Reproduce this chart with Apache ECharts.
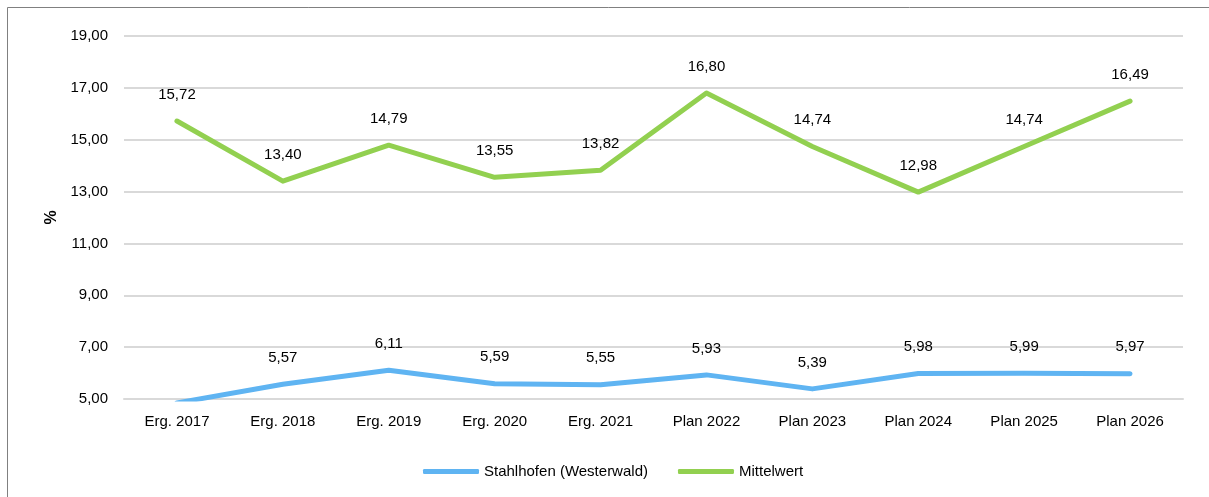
<!DOCTYPE html>
<html>
<head>
<meta charset="utf-8">
<script src="https://cdn.jsdelivr.net/npm/echarts@6/dist/echarts.min.js"></script>
<style>
  html, body { margin: 0; padding: 0; background: #fff; }
  #chart { width: 1209px; height: 497px; }
</style>
</head>
<body>
<div id="chart"></div>
<script>
const categories = ['Erg. 2017', 'Erg. 2018', 'Erg. 2019', 'Erg. 2020', 'Erg. 2021',
  'Plan 2022', 'Plan 2023', 'Plan 2024', 'Plan 2025', 'Plan 2026']
const stahlhofen = [4.85, 5.57, 6.11, 5.59, 5.55, 5.93, 5.39, 5.98, 5.99, 5.97]
const mittelwert = [15.72, 13.40, 14.79, 13.55, 13.82, 16.80, 14.74, 12.98, 14.74, 16.49]

const yMin = 5
const yMax = 19
const yStep = 2

const fmt = (v) => v.toFixed(2).replace('.', ',')

// values under the axis minimum are clipped and get no label
function toItems(values) {
  return values.map((v) => ({ value: v, label: { show: v >= yMin } }))
}

const labelStyle = {
  show: true,
  position: 'top',
  distance: 18,
  color: '#000',
  fontSize: 15,
  fontFamily: 'Liberation Sans, Arial, sans-serif',
  formatter: (p) => fmt(p.value),
}

const chart = echarts.init(document.getElementById('chart'))
chart.setOption({
  animation: false,
  backgroundColor: '#fff',
  textStyle: { fontFamily: 'Liberation Sans, Arial, sans-serif', color: '#000' },
  graphic: [{
    type: 'rect',
    shape: { x: 7.5, y: 7.5, width: 1215, height: 500 },
    style: { fill: 'none', stroke: '#808080', lineWidth: 1 },
    silent: true,
  }],
  grid: { left: 124, right: 26, top: 36, bottom: 98 },
  legend: {
    left: 418,
    top: 459,
    itemWidth: 56,
    itemHeight: 5,
    itemGap: 30,
    icon: 'roundRect',
    textStyle: { fontSize: 15, color: '#000' },
    data: ['Stahlhofen (Westerwald)', 'Mittelwert'],
  },
  xAxis: {
    type: 'category',
    data: categories,
    boundaryGap: true,
    axisLine: { lineStyle: { color: '#d9d9d9', width: 2 } },
    axisTick: { show: false },
    axisLabel: { color: '#000', fontSize: 15, margin: 15 },
  },
  yAxis: {
    type: 'value',
    min: yMin,
    max: yMax,
    interval: yStep,
    name: '%',
    nameLocation: 'middle',
    nameGap: 63,
    nameRotate: 90,
    nameTextStyle: { fontSize: 16, fontWeight: 'bold', color: '#000' },
    axisLine: { show: false },
    axisTick: { show: false },
    axisLabel: { color: '#000', fontSize: 15, margin: 16, formatter: fmt },
    splitLine: { lineStyle: { color: '#d9d9d9', width: 2 } },
  },
  series: [
    {
      name: 'Stahlhofen (Westerwald)',
      type: 'line',
      data: toItems(stahlhofen),
      symbol: 'circle',
      symbolSize: 2,
      showSymbol: true,
      clip: true,
      color: '#5fb4f2',
      lineStyle: { width: 5, color: '#5fb4f2', cap: 'round', join: 'round' },
      label: labelStyle,
    },
    {
      name: 'Mittelwert',
      type: 'line',
      data: toItems(mittelwert),
      symbol: 'circle',
      symbolSize: 2,
      showSymbol: true,
      clip: true,
      color: '#92d050',
      lineStyle: { width: 5, color: '#92d050', cap: 'round', join: 'round' },
      label: labelStyle,
    },
  ],
})
</script>
</body>
</html>
